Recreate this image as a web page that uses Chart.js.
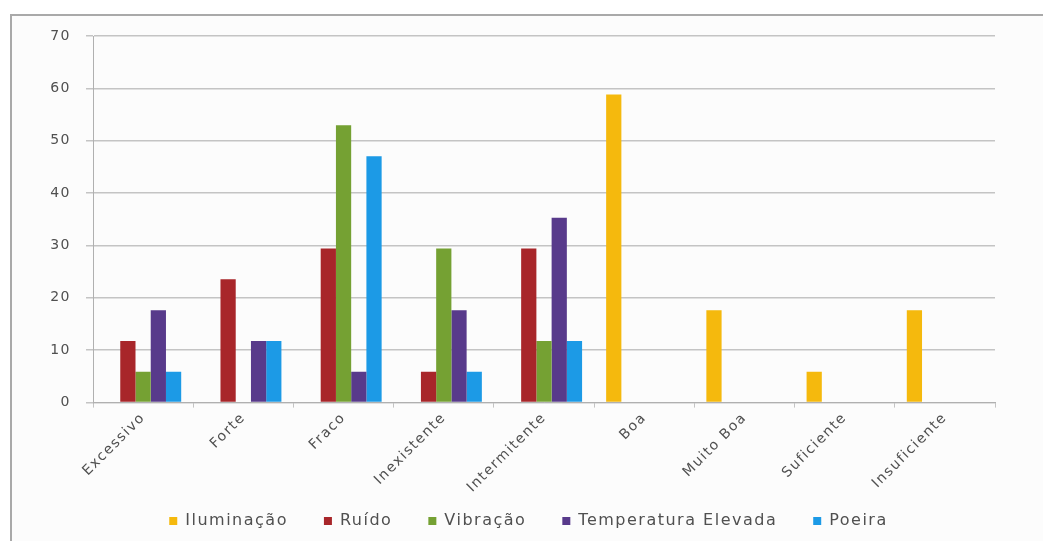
<!DOCTYPE html>
<html>
<head>
<meta charset="utf-8">
<script src="https://cdn.jsdelivr.net/npm/chart.js@4/dist/chart.umd.min.js"></script>
<style>
  html, body { margin: 0; padding: 0; background: #ffffff; }
  #wrap { position: relative; width: 1043px; height: 541px; overflow: hidden; }
  #frame {
    position: absolute; left: 10px; top: 14px; width: 1100px; height: 600px;
    border-left: 2px solid #a9a9a9; border-top: 2px solid #a9a9a9;
    background: #fcfcfc;
  }
  #c { position: absolute; left: 0; top: 0; }
</style>
</head>
<body>
<div id="wrap">
  <div id="frame"></div>
  <canvas id="c" width="1043" height="541"></canvas>
</div>
<script>
// Categories on the x axis
const categories = ['Excessivo', 'Forte', 'Fraco', 'Inexistente', 'Intermitente', 'Boa', 'Muito Boa', 'Suficiente', 'Insuficiente'];

// Percentages per factor (null = no bar)
const iluminacao  = [null, null, null, null, null, 58.82, 17.65, 5.88, 17.65];
const ruido       = [11.76, 23.53, 29.41, 5.88, 29.41, null, null, null, null];
const vibracao    = [5.88, null, 52.94, 29.41, 11.76, null, null, null, null];
const temperatura = [17.65, 11.76, 5.88, 17.65, 35.29, null, null, null, null];
const poeira      = [5.88, 11.76, 47.06, 5.88, 11.76, null, null, null, null];

// Y axis range
const yMin = 0, yMax = 70, yStep = 10;

const seriesNames = ['Iluminação', 'Ruído', 'Vibração', 'Temperatura Elevada', 'Poeira'];
const seriesColors = ['#f5b90d', '#a8262a', '#75a133', '#583a8b', '#1c9ae6'];
const seriesData = [iluminacao, ruido, vibracao, temperatura, poeira];

const textColor = '#505050';
const gridColor = '#c4c4c4';

// Wider tracking for all canvas text
const spacingPlugin = {
  id: 'spacing',
  beforeLayout(chart) { chart.ctx.letterSpacing = '1.5px'; },
  beforeDraw(chart) { chart.ctx.letterSpacing = '1.5px'; }
};

// Tick labels may run past their axis box
const noLabelClip = (scale) => { scale._computeLabelArea = () => undefined; };

new Chart(document.getElementById('c'), {
  type: 'bar',
  data: {
    labels: categories,
    datasets: seriesNames.map((name, i) => ({
      label: name,
      data: seriesData[i],
      backgroundColor: seriesColors[i],
      borderWidth: 0,
      categoryPercentage: 0.76,
      barPercentage: 1.0
    }))
  },
  options: {
    responsive: false,
    animation: false,
    devicePixelRatio: 1,
    layout: { padding: { left: 62, top: 36, right: 48, bottom: 2 } },
    plugins: {
      tooltip: { enabled: false },
      legend: {
        position: 'bottom',
        align: 'center',
        labels: {
          boxWidth: 8,
          boxHeight: 8,
          padding: 36,
          color: textColor,
          font: { family: 'DejaVu Sans', size: 16 }
        }
      }
    },
    scales: {
      x: {
        grid: { display: true, drawOnChartArea: false, drawTicks: true, tickLength: 5, color: gridColor, offset: true },
        border: { display: true, color: '#b0b0b0', width: 1 },
        ticks: {
          color: textColor,
          minRotation: 45,
          maxRotation: 45,
          padding: 2,
          font: { family: 'DejaVu Sans', size: 14 }
        },
        afterFit(scale) {
          scale.height = 74.4;
          noLabelClip(scale);
        }
      },
      y: {
        min: yMin,
        max: yMax,
        ticks: {
          stepSize: yStep,
          color: textColor,
          padding: 15,
          font: { family: 'DejaVu Sans', size: 14 }
        },
        grid: { color: gridColor, lineWidth: 1.5, tickLength: 7 },
        border: { display: true, color: '#b0b0b0', width: 1 },
        afterFit(scale) {
          scale.width = 31;
          noLabelClip(scale);
        }
      }
    }
  },
  plugins: [spacingPlugin]
});
</script>
</body>
</html>
